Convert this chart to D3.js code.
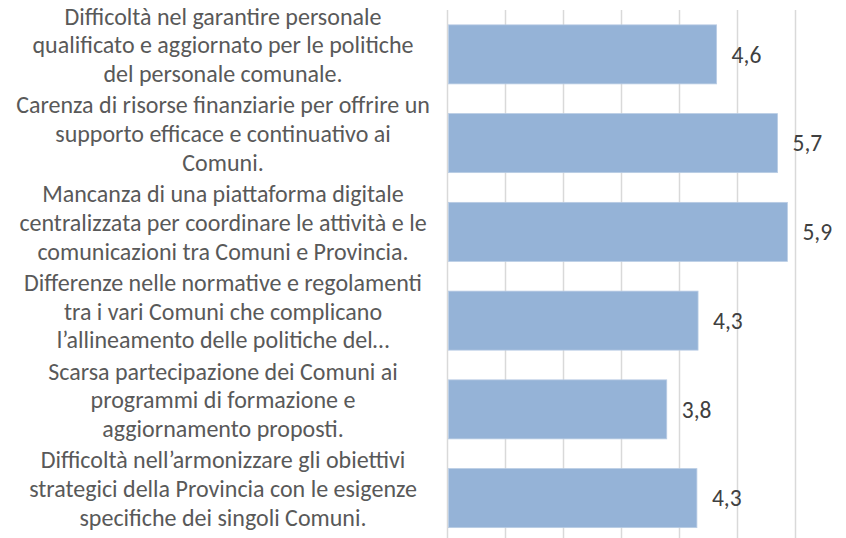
<!DOCTYPE html>
<html>
<head>
<meta charset="utf-8">
<script src="https://cdn.jsdelivr.net/npm/d3@7"></script>
<style>
    body { margin: 0; background: #fff; }
    svg { display: block; }
</style>
</head>
<body>
<script>
'use strict';

// categories, top to bottom (wrapped as in the original chart)
const categories = [
    ["Difficoltà nel garantire personale", "qualificato e aggiornato per le politiche", "del personale comunale."],
    ["Carenza di risorse finanziarie per offrire un", "supporto efficace e continuativo ai", "Comuni."],
    ["Mancanza di una piattaforma digitale", "centralizzata per coordinare le attività e le", "comunicazioni tra Comuni e Provincia."],
    ["Differenze nelle normative e regolamenti", "tra i vari Comuni che complicano", "l’allineamento delle politiche del…"],
    ["Scarsa partecipazione dei Comuni ai", "programmi di formazione e", "aggiornamento proposti."],
    ["Difficoltà nell’armonizzare gli obiettivi", "strategici della Provincia con le esigenze", "specifiche dei singoli Comuni."]
]
const values = [4.64, 5.69, 5.86, 4.32, 3.78, 4.30]
const xTicks = [0, 1, 2, 3, 4, 5, 6]

const measurements = {
    width: 846,
    height: 538,
    plotLeft: 447.5,
    plotRight: 795.5,
    plotTop: 10,
    plotBottom: 542.5,
    labelCenter: 223
}

let svg = d3.select("body").append("svg")
    .attr("width", measurements.width)
    .attr("height", measurements.height)

let x = d3.scaleLinear()
    .domain([0, 6])
    .range([measurements.plotLeft, measurements.plotRight])

let y = d3.scaleBand()
    .domain(d3.range(categories.length))
    .range([measurements.plotTop, measurements.plotBottom])
    .paddingInner(0.335)
    .paddingOuter(0.1675)

// vertical gridlines
svg.append("g")
    .selectAll("line")
    .data(xTicks)
    .enter()
    .append("line")
    .attr("x1", d => x(d))
    .attr("x2", d => x(d))
    .attr("y1", measurements.plotTop)
    .attr("y2", measurements.height)
    .attr("stroke", "#d9d9d9")
    .attr("stroke-width", 1.5)

// bars
svg.append("g")
    .selectAll("rect")
    .data(values)
    .enter()
    .append("rect")
    .attr("x", x(0) + 1)
    .attr("y", (d, i) => y(i))
    .attr("width", d => x(d) - x(0) - 1)
    .attr("height", y.bandwidth())
    .attr("fill", "#95b3d7")
    .attr("stroke", "#b9cce4")
    .attr("stroke-width", 0.8)

// value labels
svg.append("g")
    .selectAll("text")
    .data(values)
    .enter()
    .append("text")
    .attr("x", d => x(d) + 15)
    .attr("y", (d, i) => y(i) + y.bandwidth() / 2)
    .attr("dy", "0.35em")
    .attr("font-family", "Carlito, Calibri, Lato, sans-serif")
    .attr("font-size", "23.5px")
    .attr("fill", "#404040")
    .text(d => d.toFixed(1).replace(".", ","))

// category labels
let lineGap = 28.7
let labels = svg.append("g")
    .attr("font-family", "Carlito, Calibri, Lato, sans-serif")
    .attr("font-size", "24px")
    .attr("fill", "#595959")
    .attr("text-anchor", "middle")

labels.selectAll("text")
    .data(categories)
    .enter()
    .append("text")
    .attr("transform", (d, i) => "translate(" + measurements.labelCenter + "," + (y(i) + y.bandwidth() / 2 - 1) + ")")
    .selectAll("tspan")
    .data(d => d)
    .enter()
    .append("tspan")
    .attr("x", 0)
    .attr("y", (d, j, nodes) => (j - (nodes.length - 1) / 2) * lineGap)
    .text(d => d)
</script>
</body>
</html>
